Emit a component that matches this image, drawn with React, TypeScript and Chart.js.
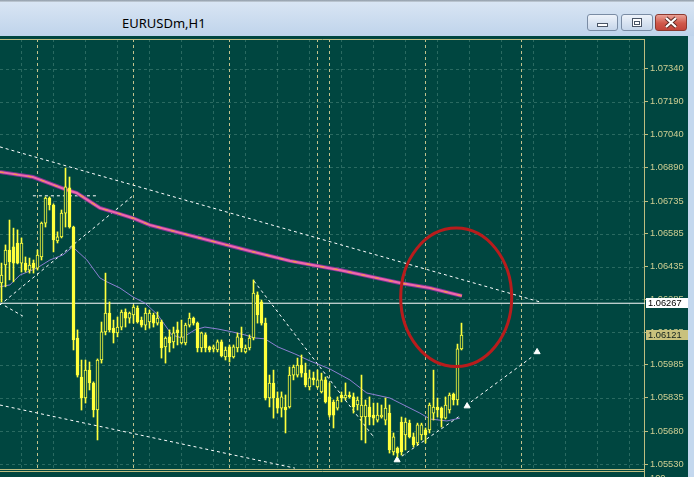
import React, { useEffect, useRef } from 'react';
import { Chart, registerables } from 'chart.js';

Chart.register(...registerables);

// ---------- data (prices) ----------
const opens = [
  1.0636, 1.06442, 1.06511, 1.06525, 1.06543, 1.06451, 1.06451, 1.06419, 1.06451, 1.06428,
  1.06479, 1.06634, 1.06749, 1.06717, 1.06552, 1.06571, 1.0668, 1.06795, 1.06616, 1.06108,
  1.05929, 1.05833, 1.05961, 1.05902, 1.05778, 1.06007, 1.06136, 1.06222, 1.06153, 1.06131,
  1.06158, 1.06227, 1.06199, 1.06213, 1.06245, 1.0619, 1.06167, 1.06181, 1.06213, 1.06176,
  1.06181, 1.06067, 1.06113, 1.0609, 1.06145, 1.06085, 1.06085, 1.06167, 1.06199, 1.06176,
  1.06062, 1.06122, 1.06067, 1.06058, 1.06053, 1.0609, 1.06021, 1.06067, 1.06021, 1.06062,
  1.06108, 1.06044, 1.06062, 1.06108, 1.06305, 1.06273, 1.06176, 1.05833, 1.05902, 1.05833,
  1.05787, 1.05792, 1.05792, 1.05938, 1.05938, 1.05984, 1.05947, 1.05884, 1.05925, 1.05884,
  1.05861, 1.05916, 1.05838, 1.05815, 1.05787, 1.05847, 1.05833, 1.05847, 1.05838, 1.05801,
  1.05746, 1.05746, 1.05792, 1.05755, 1.05732, 1.05746, 1.05732, 1.05764, 1.05586, 1.05604,
  1.05723, 1.05664, 1.05718, 1.05655, 1.05627, 1.05664, 1.05687, 1.05687, 1.05764, 1.05792,
  1.05787, 1.05741, 1.05778, 1.05851, 1.05824, 1.06058,
];
const highs = [
  1.06451, 1.06534, 1.06648, 1.06611, 1.06603, 1.06566, 1.06479, 1.06474, 1.06465, 1.06511,
  1.06639, 1.06754, 1.06754, 1.06722, 1.06594, 1.06694, 1.06886, 1.06845, 1.0662, 1.06145,
  1.06007, 1.06007, 1.05998, 1.05907, 1.06012, 1.06181, 1.06405, 1.06273, 1.0619, 1.06204,
  1.06236, 1.06241, 1.06227, 1.06259, 1.06255, 1.06204, 1.06245, 1.06236, 1.06222, 1.06227,
  1.0619, 1.06113, 1.06145, 1.06158, 1.06181, 1.0619, 1.06176, 1.06222, 1.06204, 1.06181,
  1.06135, 1.06131, 1.06071, 1.06076, 1.06099, 1.06099, 1.06067, 1.06076, 1.06076, 1.06131,
  1.06158, 1.06076, 1.06122, 1.06374, 1.06319, 1.06282, 1.06199, 1.05938, 1.05961, 1.05861,
  1.05861, 1.05847, 1.05975, 1.05984, 1.06016, 1.0603, 1.05993, 1.05961, 1.05952, 1.05961,
  1.05947, 1.05929, 1.05902, 1.05824, 1.05838, 1.05861, 1.05902, 1.05861, 1.05856, 1.05838,
  1.05938, 1.05824, 1.05838, 1.0581, 1.0581, 1.05801, 1.05833, 1.05801, 1.05673, 1.05609,
  1.05746, 1.05741, 1.05732, 1.05673, 1.05718, 1.05718, 1.05696, 1.0581, 1.05961, 1.05833,
  1.05792, 1.05838, 1.05856, 1.05856, 1.0608, 1.06176,
];
const lows = [
  1.06273, 1.06342, 1.06374, 1.06365, 1.06447, 1.0641, 1.0641, 1.06405, 1.06405, 1.06419,
  1.06465, 1.06616, 1.06694, 1.06502, 1.06543, 1.06566, 1.06616, 1.06611, 1.06053, 1.05929,
  1.05778, 1.0581, 1.0587, 1.05746, 1.05641, 1.05993, 1.06122, 1.06136, 1.06085, 1.06113,
  1.06145, 1.06158, 1.06176, 1.06176, 1.06176, 1.06158, 1.06145, 1.06153, 1.06158, 1.06167,
  1.06016, 1.05993, 1.06044, 1.06062, 1.06076, 1.0608, 1.06076, 1.06158, 1.06167, 1.06044,
  1.06044, 1.06044, 1.06044, 1.06044, 1.06044, 1.06021, 1.06007, 1.05998, 1.06016, 1.06044,
  1.06044, 1.06039, 1.06053, 1.06099, 1.06176, 1.06167, 1.05824, 1.05792, 1.05741, 1.05764,
  1.05746, 1.05673, 1.05787, 1.05916, 1.05929, 1.05929, 1.05884, 1.0587, 1.05893, 1.05879,
  1.05856, 1.0581, 1.05746, 1.05696, 1.05778, 1.05815, 1.05824, 1.05833, 1.05764, 1.05778,
  1.05641, 1.05627, 1.0571, 1.0571, 1.05723, 1.05741, 1.0571, 1.05581, 1.05572, 1.05563,
  1.05572, 1.05595, 1.0565, 1.05609, 1.05618, 1.05641, 1.05627, 1.05673, 1.05732, 1.05746,
  1.057, 1.05737, 1.05764, 1.05801, 1.05801, 1.06053,
];
const closes = [
  1.06396, 1.06511, 1.06456, 1.06451, 1.06451, 1.06543, 1.06419, 1.06442, 1.06428, 1.06488,
  1.06634, 1.06749, 1.06717, 1.06557, 1.06571, 1.0668, 1.068, 1.06616, 1.06099, 1.05938,
  1.05833, 1.05961, 1.05902, 1.05778, 1.06007, 1.06136, 1.06222, 1.06145, 1.06131, 1.06158,
  1.06227, 1.06199, 1.06222, 1.0625, 1.06181, 1.06167, 1.06222, 1.06222, 1.06176, 1.06199,
  1.06062, 1.06108, 1.06085, 1.06131, 1.06131, 1.06113, 1.06167, 1.06199, 1.06176, 1.06062,
  1.06131, 1.06062, 1.06053, 1.06067, 1.0609, 1.06026, 1.06053, 1.06021, 1.06067, 1.06113,
  1.06062, 1.06062, 1.06108, 1.06314, 1.06213, 1.06176, 1.05833, 1.05902, 1.05833, 1.05787,
  1.05838, 1.05778, 1.05938, 1.05975, 1.05984, 1.05947, 1.05893, 1.05925, 1.05916, 1.05916,
  1.05916, 1.05815, 1.05755, 1.05755, 1.05824, 1.05833, 1.05847, 1.05838, 1.05792, 1.05824,
  1.05801, 1.05801, 1.05746, 1.05741, 1.05755, 1.05755, 1.05787, 1.05595, 1.05655, 1.05581,
  1.05586, 1.05723, 1.05655, 1.05618, 1.0571, 1.0571, 1.05664, 1.05801, 1.05792, 1.05778,
  1.05741, 1.05801, 1.05847, 1.05824, 1.06058, 1.06121,
];

// price-axis labels (MT4 style, non-round steps)
const yTickValues = [
  1.0734, 1.0719, 1.0704, 1.0689, 1.06735, 1.06585, 1.06435, 1.06285, 1.06135, 1.05985,
  1.05835, 1.0568, 1.0553,
];
const Y_MIN = 1.05508;
const Y_MAX = 1.07477;
const X_MIN = -0.375;
const X_MAX = 160.875;

// period separators and time grid (bar indices)
const separatorBars = [9, 33, 57, 79, 82, 106, 130];
const gridBars = [5, 13, 21, 29, 37, 45, 53, 61, 69, 77, 85, 93, 101, 109, 117, 125, 133, 141, 149, 157];

// slow moving average (pink) – sampled points
const maSlowBars = [-0.4, 7.85, 16.35, 18.85, 24.6, 28.85, 32.85, 37.1, 49.6, 62.1, 72.1, 84.6, 99.6, 107.1, 115.1];
const maSlowValues = [1.06868, 1.06845, 1.06786, 1.06772, 1.06703, 1.0668, 1.06657, 1.06625, 1.06566, 1.06506, 1.06461, 1.06419, 1.0636, 1.06337, 1.06301];

// fast moving average (lavender) – sampled points
const maFastBars = [-0.4, 2.1, 4.6, 8.85, 12.1, 15.35, 17.8, 21.35, 24.6, 26.35, 29.6, 32.85, 35.85, 39.1, 42.6, 45.1, 48.35, 50.85, 54.1, 57.6, 60.85, 63.35, 65.85, 69.1, 73.35, 77.1, 82.1, 87.1, 91.35, 97.1, 99.6, 104.6, 107.1, 111.35, 114.6];
const maFastValues = [1.06342, 1.06351, 1.06396, 1.06428, 1.06465, 1.06488, 1.06525, 1.06465, 1.06383, 1.06365, 1.06337, 1.06296, 1.06268, 1.06213, 1.06122, 1.06108, 1.06145, 1.06158, 1.06149, 1.06136, 1.06122, 1.06108, 1.06104, 1.06067, 1.06035, 1.06003, 1.05966, 1.05916, 1.05856, 1.05833, 1.0581, 1.05764, 1.05737, 1.05728, 1.05741];

// dashed trend lines
const trendStartBars = [-0.4, -0.4, -0.4, 0.85, 7.85, 63.1, 100.1, 117.35];
const trendStartPrices = [1.06983, 1.05801, 1.06259, 1.06255, 1.06759, 1.06369, 1.05567, 1.05815];
const trendEndBars = [134.6, 73.35, 32.85, 5.35, 24.1, 92.85, 114.6, 132.6];
const trendEndPrices = [1.06273, 1.05512, 1.06759, 1.06208, 1.06759, 1.05659, 1.05751, 1.06021];

// arrow markers
const arrowBars = [98.9, 116.4, 133.9];
const arrowPrices = [1.05549, 1.05796, 1.06044];

// horizontal line, bid price, highlight ellipse
const hLinePrice = 1.06267;
const bidPrice = 1.06121;
const ellipseCenterBar = 113.675;
const ellipseCenterPrice = 1.06294;
const ellipseRadiusBars = 13.875;
const ellipseRadiusPrice = 0.00317;

// ---------- styles ----------
const BG = '#004640';
const YELLOW = '#ffff3c';
const GRID = 'rgba(110,165,150,0.38)';
const SEP = '#c2c28c';
const AXIS = '#bdbd80';
const LABEL = '#cfcf92';
const LABEL_FONT = '9.3px "Liberation Sans", Arial, sans-serif';

const decor = {
  id: 'mt4Decor',
  beforeDatasetsDraw(chart: any) {
    const { ctx, chartArea: a, scales } = chart;
    const x = scales.x;
    const y = scales.y;
    const line = (x1: number, y1: number, x2: number, y2: number) => {
      ctx.beginPath();
      ctx.moveTo(x1, y1);
      ctx.lineTo(x2, y2);
      ctx.stroke();
    };
    ctx.save();
    ctx.lineWidth = 1;
    ctx.setLineDash([3, 3]);
    ctx.strokeStyle = GRID;
    for (const v of yTickValues) {
      const py = Math.round(y.getPixelForValue(v)) + 0.5;
      line(a.left, py, a.right, py);
    }
    for (const b of gridBars) {
      const px = x.getPixelForValue(b);
      line(px, a.top, px, a.bottom);
    }
    ctx.strokeStyle = SEP;
    for (const b of separatorBars) {
      const px = x.getPixelForValue(b);
      line(px, a.top, px, a.bottom);
    }
    ctx.setLineDash([]);
    ctx.strokeStyle = AXIS;
    line(a.left, a.top + 0.5, a.right, a.top + 0.5);
    line(a.left, a.bottom + 0.5, a.right, a.bottom + 0.5);
    line(a.left, a.bottom + 2.5, a.right, a.bottom + 2.5);
    line(a.right - 0.5, a.top, a.right - 0.5, chart.height);
    ctx.restore();
  },
  afterDatasetsDraw(chart: any) {
    const { ctx, scales } = chart;
    const x = scales.x;
    const y = scales.y;
    const cx = x.getPixelForValue(ellipseCenterBar);
    const cy = y.getPixelForValue(ellipseCenterPrice);
    const rx = Math.abs(x.getPixelForValue(ellipseCenterBar + ellipseRadiusBars) - cx);
    const ry = Math.abs(y.getPixelForValue(ellipseCenterPrice + ellipseRadiusPrice) - cy);
    ctx.save();
    ctx.strokeStyle = '#b81c1c';
    ctx.lineWidth = 3;
    ctx.beginPath();
    ctx.ellipse(cx, cy, rx, ry, 0, 0, Math.PI * 2);
    ctx.stroke();
    ctx.restore();
  },
  afterDraw(chart: any) {
    const { ctx, chartArea: a, scales } = chart;
    const y = scales.y;
    ctx.save();
    ctx.font = LABEL_FONT;
    ctx.textBaseline = 'middle';
    ctx.textAlign = 'left';
    const box = (v: number, fill: string, color: string) => {
      const py = Math.round(y.getPixelForValue(v));
      ctx.fillStyle = fill;
      ctx.fillRect(a.right + 1, py - 5, 42, 10);
      ctx.fillStyle = color;
      ctx.fillText(v.toFixed(5), a.right + 3, py + 0.5);
    };
    box(hLinePrice, '#ffffff', '#000000');
    box(bidPrice, '#c9c17c', '#10201c');
    ctx.fillStyle = LABEL;
    ctx.textBaseline = 'top';
    ctx.fillText('100', a.right + 5, a.bottom + 5);
    ctx.restore();
  },
};

function buildConfig(): any {
  const idx = opens.map((_, i) => i);
  const wickData = idx.map((i) => ({ x: i, y: [lows[i], highs[i]] }));
  const bodyData = idx.map((i) => ({
    x: i,
    y: [Math.min(opens[i], closes[i]), Math.max(opens[i], closes[i])],
  }));
  const bodyFill = idx.map((i) => (closes[i] < opens[i] ? YELLOW : BG));
  const maSlow = maSlowBars.map((b, i) => ({ x: b, y: maSlowValues[i] }));
  const maFast = maFastBars.map((b, i) => ({ x: b, y: maFastValues[i] }));

  const trendSets = trendStartBars.map((b, i) => ({
    type: 'line',
    data: [
      { x: b, y: trendStartPrices[i] },
      { x: trendEndBars[i], y: trendEndPrices[i] },
    ],
    borderColor: '#ffffff',
    borderWidth: 1,
    borderDash: [3, 3],
    pointRadius: 0,
    fill: false,
    order: 7,
  }));

  return {
    type: 'bar',
    data: {
      datasets: [
        {
          type: 'bar',
          data: bodyData,
          backgroundColor: bodyFill,
          borderColor: YELLOW,
          borderWidth: 1,
          borderSkipped: false,
          barThickness: 3,
          minBarLength: 1,
          grouped: false,
          order: 1,
        },
        {
          type: 'bar',
          data: wickData,
          backgroundColor: YELLOW,
          borderWidth: 0,
          barThickness: 1,
          grouped: false,
          order: 2,
        },
        {
          type: 'line',
          data: maFast,
          borderColor: '#8c7fd2',
          borderWidth: 1,
          pointRadius: 0,
          fill: false,
          order: 3,
        },
        {
          type: 'line',
          data: maSlow,
          borderColor: '#f29a46',
          borderWidth: 1.2,
          borderDash: [4, 10],
          pointRadius: 0,
          fill: false,
          order: 4,
        },
        {
          type: 'line',
          data: maSlow,
          borderColor: '#ef68aa',
          borderWidth: 2.2,
          pointRadius: 0,
          fill: false,
          order: 5,
        },
        {
          type: 'line',
          data: maSlow,
          borderColor: '#7d3492',
          borderWidth: 4,
          pointRadius: 0,
          fill: false,
          order: 6,
        },
        ...trendSets,
        {
          type: 'line',
          data: arrowBars.map((b, i) => ({ x: b, y: arrowPrices[i] })),
          showLine: false,
          pointStyle: 'triangle',
          pointRadius: 3.5,
          pointBackgroundColor: '#ffffff',
          pointBorderColor: '#ffffff',
          pointBorderWidth: 1,
          order: 7,
        },
        {
          type: 'line',
          data: [
            { x: X_MIN, y: hLinePrice },
            { x: X_MAX, y: hLinePrice },
          ],
          borderColor: '#ffffff',
          borderWidth: 1,
          pointRadius: 0,
          fill: false,
          order: 8,
        },
      ],
    },
    options: {
      animation: false,
      responsive: false,
      maintainAspectRatio: false,
      events: [],
      layout: { autoPadding: false, padding: { top: 3, bottom: 8, left: 0, right: 0 } },
      plugins: { legend: { display: false }, tooltip: { enabled: false } },
      scales: {
        x: {
          type: 'linear',
          display: false,
          min: X_MIN,
          max: X_MAX,
          offset: false,
          grid: { offset: false },
        },
        y: {
          type: 'linear',
          position: 'right',
          min: Y_MIN,
          max: Y_MAX,
          beginAtZero: false,
          afterBuildTicks: (s: any) => {
            s.ticks = yTickValues.map((v) => ({ value: v }));
          },
          afterFit: (s: any) => {
            s.width = 43;
            s.paddingTop = 0;
            s.paddingBottom = 0;
          },
          grid: {
            display: true,
            drawOnChartArea: false,
            drawTicks: true,
            tickLength: 3,
            tickColor: AXIS,
          },
          border: { display: false },
          ticks: {
            color: LABEL,
            font: { family: '"Liberation Sans", Arial, sans-serif', size: 9.3 },
            padding: 2,
            autoSkip: false,
            maxRotation: 0,
            callback: (v: any) => Number(v).toFixed(5),
          },
        },
      },
    },
    plugins: [decor],
  };
}

const btnBase: React.CSSProperties = {
  position: 'absolute',
  top: 14,
  height: 17,
  boxSizing: 'border-box',
  borderRadius: 3,
};

export default function App() {
  const ref = useRef<HTMLCanvasElement>(null);
  useEffect(() => {
    if (!ref.current) return;
    const chart = new Chart(ref.current, buildConfig());
    return () => chart.destroy();
  }, []);

  return (
    <div
      style={{
        position: 'fixed',
        left: 0,
        top: 0,
        width: 694,
        height: 477,
        overflow: 'hidden',
        background: '#c4d8ee',
      }}
    >
      <div
        style={{
          position: 'absolute',
          left: 0,
          top: 0,
          width: 694,
          height: 36,
          background: 'linear-gradient(#dae6f4, #bfd4eb)',
        }}
      >
        <div
          style={{
            position: 'absolute',
            left: 0,
            top: 0,
            width: 694,
            height: 2,
            background: 'linear-gradient(#8d98a5, #c7d1dc)',
          }}
        />
        <div
          style={{
            position: 'absolute',
            left: 122,
            top: 14,
            height: 18,
            lineHeight: '18px',
            fontFamily: '"Noto Sans", "Open Sans", sans-serif',
            fontSize: 13,
            color: '#000',
            whiteSpace: 'nowrap',
          }}
        >
          EURUSDm,H1
        </div>
        <div
          style={{
            ...btnBase,
            left: 587,
            width: 31,
            border: '1px solid #7a8ca4',
            background: 'linear-gradient(#eef3fa, #c6d6ea)',
          }}
        >
          <svg width="29" height="15" style={{ position: 'absolute', left: 0, top: 0 }}>
            <rect x="9.5" y="8.5" width="10" height="3" fill="#fff" stroke="#4a5566" />
          </svg>
        </div>
        <div
          style={{
            ...btnBase,
            left: 621,
            width: 32,
            border: '1px solid #7a8ca4',
            background: 'linear-gradient(#eef3fa, #c6d6ea)',
          }}
        >
          <svg width="30" height="15" style={{ position: 'absolute', left: 0, top: 0 }}>
            <rect x="10.5" y="3.5" width="9" height="8" fill="#fff" stroke="#4a5566" />
            <rect x="12.5" y="6.5" width="5" height="3" fill="#fff" stroke="#4a5566" />
          </svg>
        </div>
        <div
          style={{
            ...btnBase,
            left: 655,
            width: 32,
            border: '1px solid #8c3a30',
            background: 'linear-gradient(#eaa196, #d0584a 55%, #c2443a)',
          }}
        >
          <svg width="30" height="15" style={{ position: 'absolute', left: 0, top: 0 }}>
            <path d="M10 3 L20 12 M20 3 L10 12" stroke="#5a2a25" strokeWidth="4" />
            <path d="M10 3 L20 12 M20 3 L10 12" stroke="#ffffff" strokeWidth="2.2" />
          </svg>
        </div>
      </div>
      <canvas
        ref={ref}
        width={688}
        height={441}
        style={{
          position: 'absolute',
          left: 0,
          top: 36,
          width: 688,
          height: 441,
          display: 'block',
          background: BG,
        }}
      />
    </div>
  );
}
